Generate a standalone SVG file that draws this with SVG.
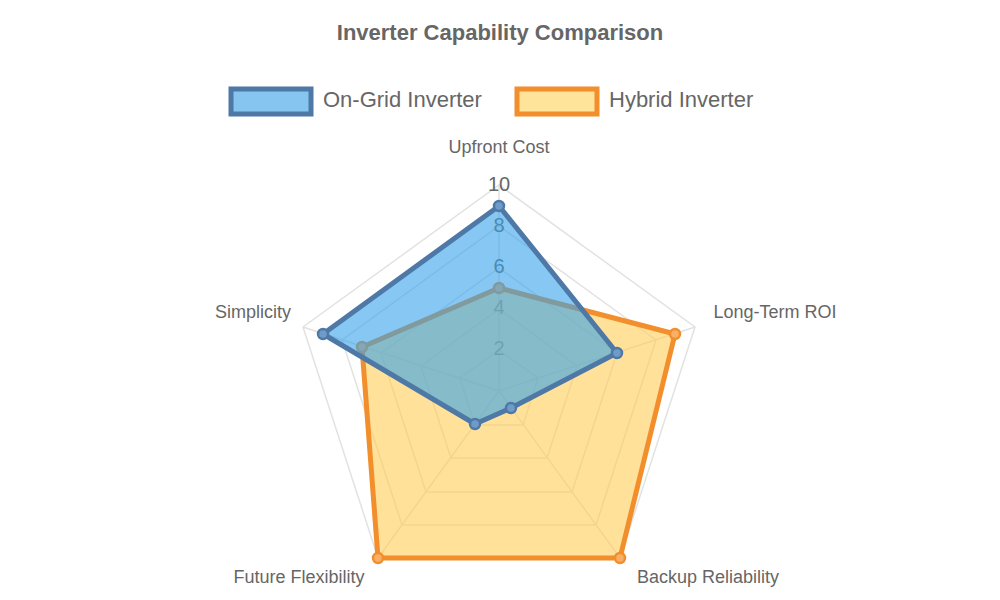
<svg xmlns="http://www.w3.org/2000/svg" width="1000" height="600" viewBox="0 0 1000 600">
<style>
text{font-family:"Liberation Sans",Arial,sans-serif;fill:#666}
.grid{fill:none;stroke:#e2e2e2;stroke-width:1.5}
.tick{font-size:20px;text-anchor:middle;dominant-baseline:middle}
.pl{font-size:18px;text-anchor:middle;dominant-baseline:middle}
.blue{fill:#36a2eb;fill-opacity:0.6;stroke:#4e79a7;stroke-width:5;stroke-linejoin:round}
.orange{fill:#ffcd56;fill-opacity:0.6;stroke:#f28e2b;stroke-width:5;stroke-linejoin:round}
.bp{fill:#6f9bc8;stroke:#4e79a7;stroke-width:2.5}
.op{fill:#f7b066;stroke:#f28e2b;stroke-width:2.5}
</style>
<rect width="1000" height="600" fill="#fff"/>
<text x="500" y="34" font-size="22" font-weight="bold" text-anchor="middle" dominant-baseline="middle">Inverter Capability Comparison</text>
<g id="legend">
<rect x="231" y="89" width="80" height="25" fill="#85c5f0" stroke="#4e79a7" stroke-width="5"/>
<text x="323" y="101" font-size="22" dominant-baseline="middle">On-Grid Inverter</text>
<rect x="517" y="89" width="80" height="25" fill="#fee39a" stroke="#f28e2b" stroke-width="5"/>
<text x="609" y="101" font-size="22" dominant-baseline="middle">Hybrid Inverter</text>
</g>
<g id="grid">
<polygon class="grid" points="499,185 695,327 620,558 378,558 303,327"/>
<polygon class="grid" points="499,226 656,340 596,525 402,525 342,340"/>
<polygon class="grid" points="499,268 617,353 572,492 426,492 381,353"/>
<polygon class="grid" points="499,309 577,366 547,458 451,458 421,366"/>
<polygon class="grid" points="499,350 538,378 523,425 475,425 460,378"/>
<path class="grid" d="M499,391L499,185M499,391L695,327M499,391L620,558M499,391L378,558M499,391L303,327"/>
<text class="tick" x="499" y="186">10</text>
<text class="tick" x="499" y="227">8</text>
<text class="tick" x="499" y="268">6</text>
<text class="tick" x="499" y="309">4</text>
<text class="tick" x="499" y="350">2</text>
</g>
<g id="labels">
<text class="pl" x="499" y="148">Upfront Cost</text>
<text class="pl" x="775" y="313">Long-Term ROI</text>
<text class="pl" x="708" y="578">Backup Reliability</text>
<text class="pl" x="299" y="578">Future Flexibility</text>
<text class="pl" x="253" y="313">Simplicity</text>
</g>
<g id="hybrid">
<polygon class="orange" points="499,288 675,334 620,558 378,558 362,347"/>
<circle class="op" cx="499" cy="288" r="5"/><circle class="op" cx="675" cy="334" r="5"/><circle class="op" cx="620" cy="558" r="5"/><circle class="op" cx="378" cy="558" r="5"/><circle class="op" cx="362" cy="347" r="5"/>
</g>
<g id="ongrid">
<polygon class="blue" points="499,206 617,353 511,408 475,424 323,334"/>
<circle class="bp" cx="499" cy="206" r="5"/><circle class="bp" cx="617" cy="353" r="5"/><circle class="bp" cx="511" cy="408" r="5"/><circle class="bp" cx="475" cy="424" r="5"/><circle class="bp" cx="323" cy="334" r="5"/>
</g>
</svg>
